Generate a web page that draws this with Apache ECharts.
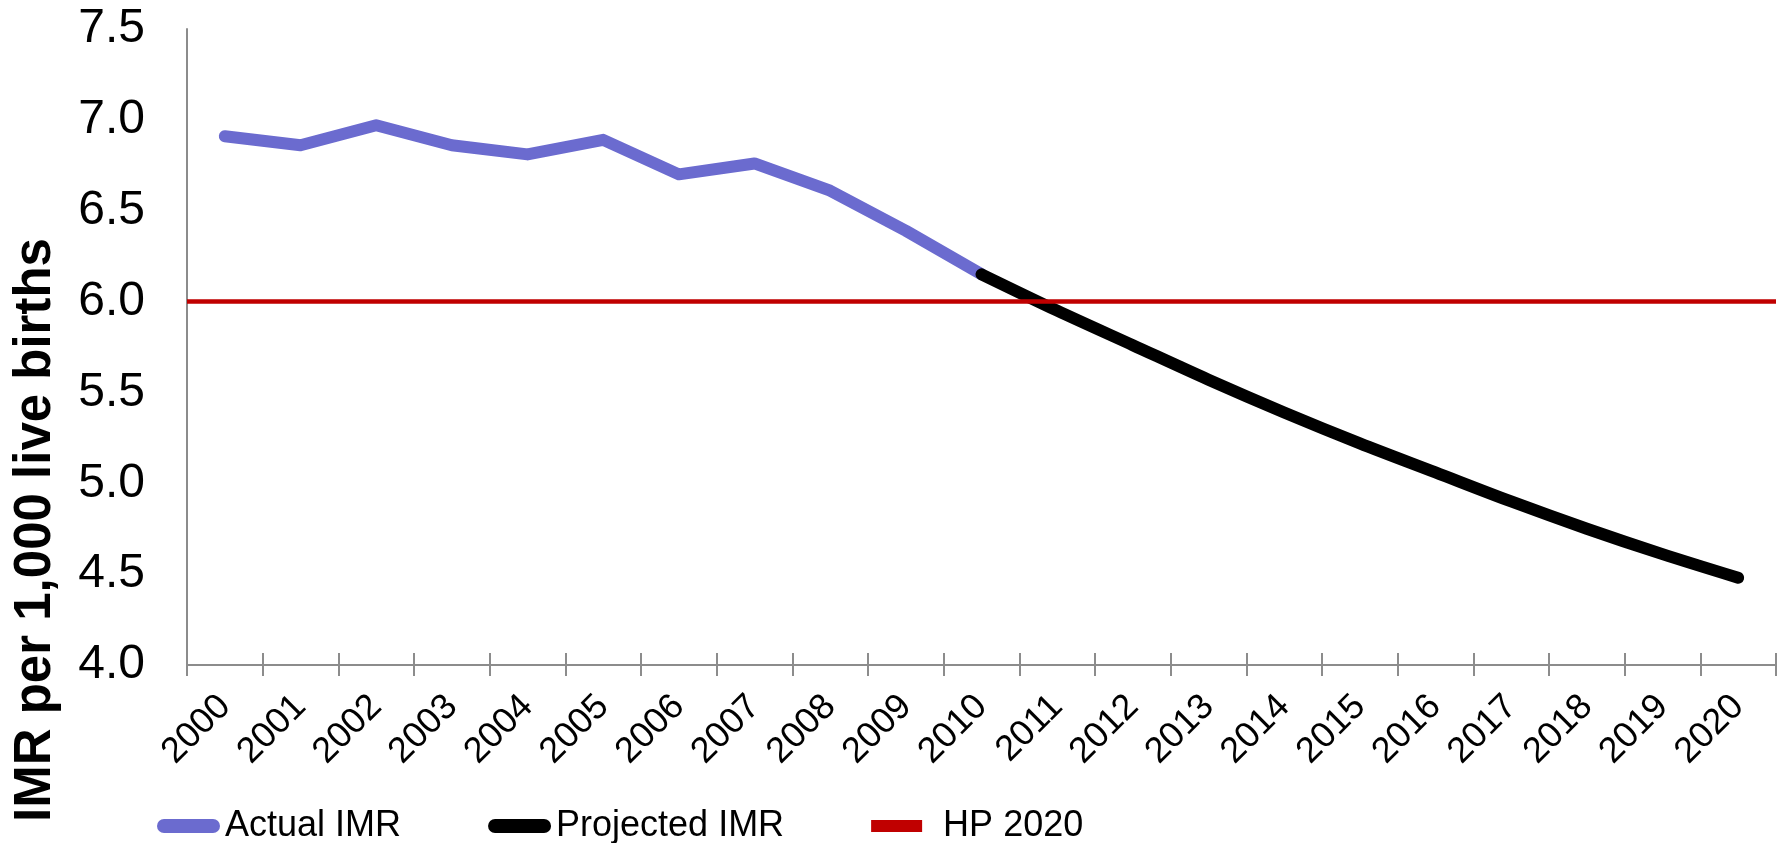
<!DOCTYPE html>
<html>
<head>
<meta charset="utf-8">
<title>Infant mortality rate, actual and projected</title>
<script src="https://cdn.jsdelivr.net/npm/echarts@6/dist/echarts.min.js"></script>
<style>
  html, body { margin: 0; padding: 0; background: #ffffff; }
  #chart { width: 1789px; height: 843px; }
</style>
</head>
<body>
<div id="chart"></div>
<script>
// Years on the category axis
const years = ['2000', '2001', '2002', '2003', '2004', '2005', '2006', '2007', '2008', '2009', '2010',
               '2011', '2012', '2013', '2014', '2015', '2016', '2017', '2018', '2019', '2020'];
// Observed infant mortality rate, 2000-2010
const actualIMR = [6.91, 6.86, 6.97, 6.86, 6.81, 6.89, 6.70, 6.76, 6.61, 6.39, 6.15];
// Projected infant mortality rate, 2010-2020
const projectedIMR = [6.15, 5.95, 5.76, 5.57, 5.39, 5.22, 5.06, 4.90, 4.75, 4.61, 4.48];
// Healthy People 2020 target
const hp2020Target = 6.0;

const FONT = '"Liberation Sans", Arial, Helvetica, sans-serif';
const AXIS_GREY = '#8c8c8c';

const actualSeries = years.map((_, i) => (i < actualIMR.length ? actualIMR[i] : null));
const projOffset = years.length - projectedIMR.length;
const projectedSeries = years.map((_, i) => (i >= projOffset ? projectedIMR[i - projOffset] : null));
const targetSeries = years.map(() => hp2020Target);

const chart = echarts.init(document.getElementById('chart'), null, { renderer: 'canvas' });

chart.setOption({
  animation: false,
  backgroundColor: '#ffffff',
  textStyle: { fontFamily: FONT },
  grid: { left: 187, right: 13, top: 29, bottom: 178, containLabel: false },
  legend: {
    left: 152,
    top: 803,
    itemWidth: 63,
    itemHeight: 14,
    itemGap: 87,
    textStyle: { fontSize: 36, color: '#000000', fontFamily: FONT },
    data: [
      { name: 'Actual IMR', icon: 'path://M7,0 H56 A7,7 0 0 1 56,14 H7 A7,7 0 0 1 7,0 Z' },
      { name: 'Projected IMR', icon: 'path://M7,0 H56 A7,7 0 0 1 56,14 H7 A7,7 0 0 1 7,0 Z' },
      { name: 'HP 2020', icon: 'path://M0,1 H51 V13 H0 Z M63,14 M0,0', textStyle: { padding: [0, 0, 0, 4] } }
    ]
  },
  xAxis: [
    {
      type: 'category',
      data: years,
      boundaryGap: true,
      axisLine: { show: true, lineStyle: { color: AXIS_GREY, width: 2 } },
      axisTick: { show: true, interval: 0, length: 11, lineStyle: { color: AXIS_GREY, width: 2 } },
      axisLabel: {
        interval: 0, rotate: 45, margin: 36,
        fontSize: 36, color: '#000000', fontFamily: FONT
      },
      splitLine: { show: false }
    },
    {
      // full-width axis carrying the target line
      type: 'category',
      data: years,
      boundaryGap: false,
      show: false
    },
    {
      // inner half of the crossing tick marks
      type: 'category',
      data: years,
      boundaryGap: true,
      position: 'bottom',
      axisLine: { show: false },
      axisTick: { show: true, inside: true, interval: 0, length: 12, lineStyle: { color: AXIS_GREY, width: 2 } },
      axisLabel: { show: false },
      splitLine: { show: false }
    }
  ],
  yAxis: {
    type: 'value',
    min: 4,
    max: 7.5,
    interval: 0.5,
    axisLine: { show: true, lineStyle: { color: AXIS_GREY, width: 2 } },
    axisTick: { show: false },
    splitLine: { show: false },
    axisLabel: {
      margin: 42,
      fontSize: 48,
      color: '#000000',
      fontFamily: FONT,
      formatter: (v) => v.toFixed(1)
    }
  },
  graphic: [
    {
      type: 'text',
      x: 36,
      y: 530,
      rotation: Math.PI / 2,
      style: {
        text: 'IMR per 1,000 live births',
        font: 'bold 51px ' + FONT,
        fill: '#000000',
        textAlign: 'center',
        textVerticalAlign: 'middle'
      }
    }
  ],
  series: [
    {
      name: 'Actual IMR',
      type: 'line',
      xAxisIndex: 0,
      data: actualSeries,
      symbol: 'none',
      connectNulls: false,
      itemStyle: { color: '#6b6bcf' },
      lineStyle: { color: '#6b6bcf', width: 12, cap: 'round', join: 'round' },
      z: 2
    },
    {
      name: 'Projected IMR',
      type: 'line',
      xAxisIndex: 0,
      data: projectedSeries,
      symbol: 'none',
      smooth: 0.3,
      itemStyle: { color: '#000000' },
      lineStyle: { color: '#000000', width: 12, cap: 'round', join: 'round' },
      z: 3
    },
    {
      name: 'HP 2020',
      type: 'line',
      xAxisIndex: 1,
      data: targetSeries,
      symbol: 'none',
      itemStyle: { color: '#c00000' },
      lineStyle: { color: '#c00000', width: 4.5 },
      z: 4
    }
  ]
});
</script>
</body>
</html>
